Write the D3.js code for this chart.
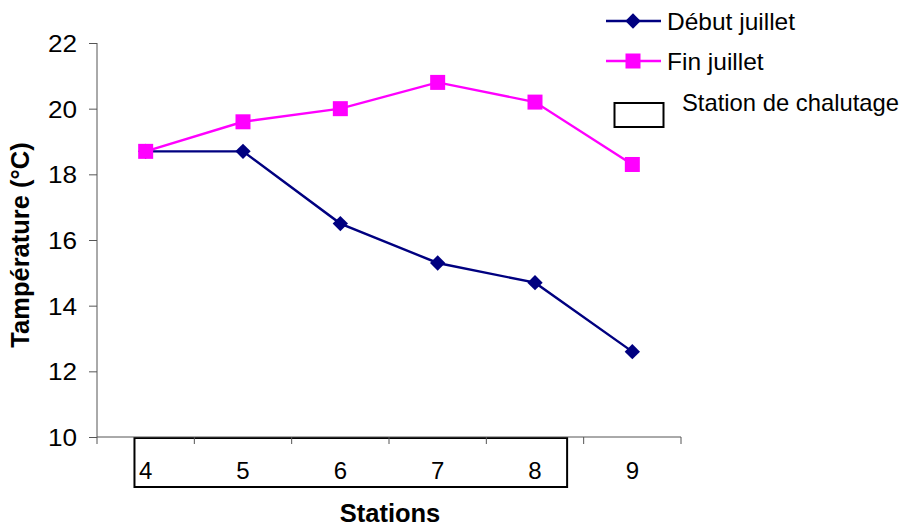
<!DOCTYPE html>
<html><head><meta charset="utf-8">
<script src="https://cdn.jsdelivr.net/npm/d3@7"></script>
<style>
body{margin:0;background:#fff;}
text{font-family:"Liberation Sans",Arial,sans-serif;fill:#000;}
</style></head>
<body><svg id="c" width="903" height="529"></svg>
<script>
const stations = ["4","5","6","7","8","9"];
const debutJuillet = [18.7, 18.7, 16.5, 15.3, 14.7, 12.6];
const finJuillet = [18.7, 19.6, 20.0, 20.8, 20.2, 18.3];
const chalutage = ["4","5","6","7","8"];
const yTicks = [10, 12, 14, 16, 18, 20, 22];
const seriesNames = ["Début juillet", "Fin juillet"];
const boxLabel = "Station de chalutage";

const svg = d3.select("#c");
const x = d3.scaleBand().domain(stations).range([97, 681]);
const y = d3.scaleLinear().domain([10, 22]).range([437, 43]);
const bw = x.bandwidth();
const cx = d => x(d) + bw / 2;

// chalutage box
const c0 = chalutage[0], c1 = chalutage[chalutage.length - 1];
svg.append("rect")
  .attr("x", x(c0) + bw * 0.385).attr("y", 438)
  .attr("width", (x(c1) + bw * 0.83) - (x(c0) + bw * 0.385)).attr("height", 49)
  .attr("fill", "none").attr("stroke", "#000").attr("stroke-width", 2);

// y axis
const ya = svg.append("g").attr("transform", "translate(97,0)")
  .call(d3.axisLeft(y).tickValues(yTicks).tickSize(8).tickPadding(12).tickFormat(d3.format("d")));
ya.select(".domain").attr("stroke", "#555").attr("d", "M0,43V437");
ya.selectAll(".tick line").attr("stroke", "#555");
const sx = 1.09;
ya.selectAll("text").style("font-size", "24px").attr("dy", "0.36em")
  .attr("x", -20 / sx).attr("transform", `scale(${sx},1)`)
  .style("font-family", "'Liberation Sans',Arial,sans-serif");

// x axis line and boundary ticks
svg.append("line").attr("x1", 97).attr("x2", 681).attr("y1", 437).attr("y2", 437).attr("stroke", "#555");
const bounds = stations.map(s => x(s)).concat([x(stations[stations.length - 1]) + bw]);
svg.selectAll(".xt").data(bounds).enter().append("line")
  .attr("x1", d => d).attr("x2", d => d).attr("y1", 437).attr("y2", 444).attr("stroke", "#555");
const xa = svg.append("g").attr("transform", "translate(0,437)")
  .call(d3.axisBottom(x).tickSize(0).tickPadding(25));
xa.select(".domain").remove();
xa.selectAll("text").style("font-size", "24px")
  .style("font-family", "'Liberation Sans',Arial,sans-serif");

// titles
svg.append("text").attr("x", 390).attr("y", 522).attr("text-anchor", "middle")
  .style("font-size", "25.5px").style("font-weight", "bold").text("Stations");
svg.append("text").attr("transform", "translate(29,245) rotate(-90)").attr("text-anchor", "middle")
  .style("font-size", "25.5px").style("font-weight", "bold").text("Tampérature (°C)");

// lines
const line = d3.line().x((d, i) => cx(stations[i])).y(d => y(d));
svg.append("path").datum(debutJuillet).attr("d", line).attr("fill", "none")
  .attr("stroke", "#000080").attr("stroke-width", 2.4);
svg.selectAll(".dm").data(debutJuillet).enter().append("path")
  .attr("d", d3.symbol(d3.symbolDiamond2, 150))
  .attr("transform", (d, i) => `translate(${cx(stations[i])},${y(d)})`).attr("fill", "#000080");
svg.append("path").datum(finJuillet).attr("d", line).attr("fill", "none")
  .attr("stroke", "#FF00FF").attr("stroke-width", 2.4);
svg.selectAll(".sq").data(finJuillet).enter().append("rect")
  .attr("x", (d, i) => cx(stations[i]) - 7.5).attr("y", d => y(d) - 7.5)
  .attr("width", 15).attr("height", 15).attr("fill", "#FF00FF");

// legend
const colors = ["#000080", "#FF00FF"];
const ly = [21, 61];
seriesNames.forEach((n, i) => {
  svg.append("line").attr("x1", 606).attr("x2", 661).attr("y1", ly[i]).attr("y2", ly[i])
    .attr("stroke", colors[i]).attr("stroke-width", 2.4);
  if (i === 0) {
    svg.append("path").attr("d", d3.symbol(d3.symbolDiamond2, 150))
      .attr("transform", `translate(633,${ly[i]})`).attr("fill", colors[i]);
  } else {
    svg.append("rect").attr("x", 625.5).attr("y", ly[i] - 7.5).attr("width", 15).attr("height", 15).attr("fill", colors[i]);
  }
  svg.append("text").attr("x", 667).attr("y", ly[i] + 8.5).style("font-size", "24.5px").text(n);
});
svg.append("rect").attr("x", 614.5).attr("y", 103).attr("width", 49).attr("height", 24)
  .attr("fill", "none").attr("stroke", "#000").attr("stroke-width", 2);
svg.append("text").attr("x", 682).attr("y", 111).style("font-size", "23.8px").text(boxLabel);
</script></body></html>
